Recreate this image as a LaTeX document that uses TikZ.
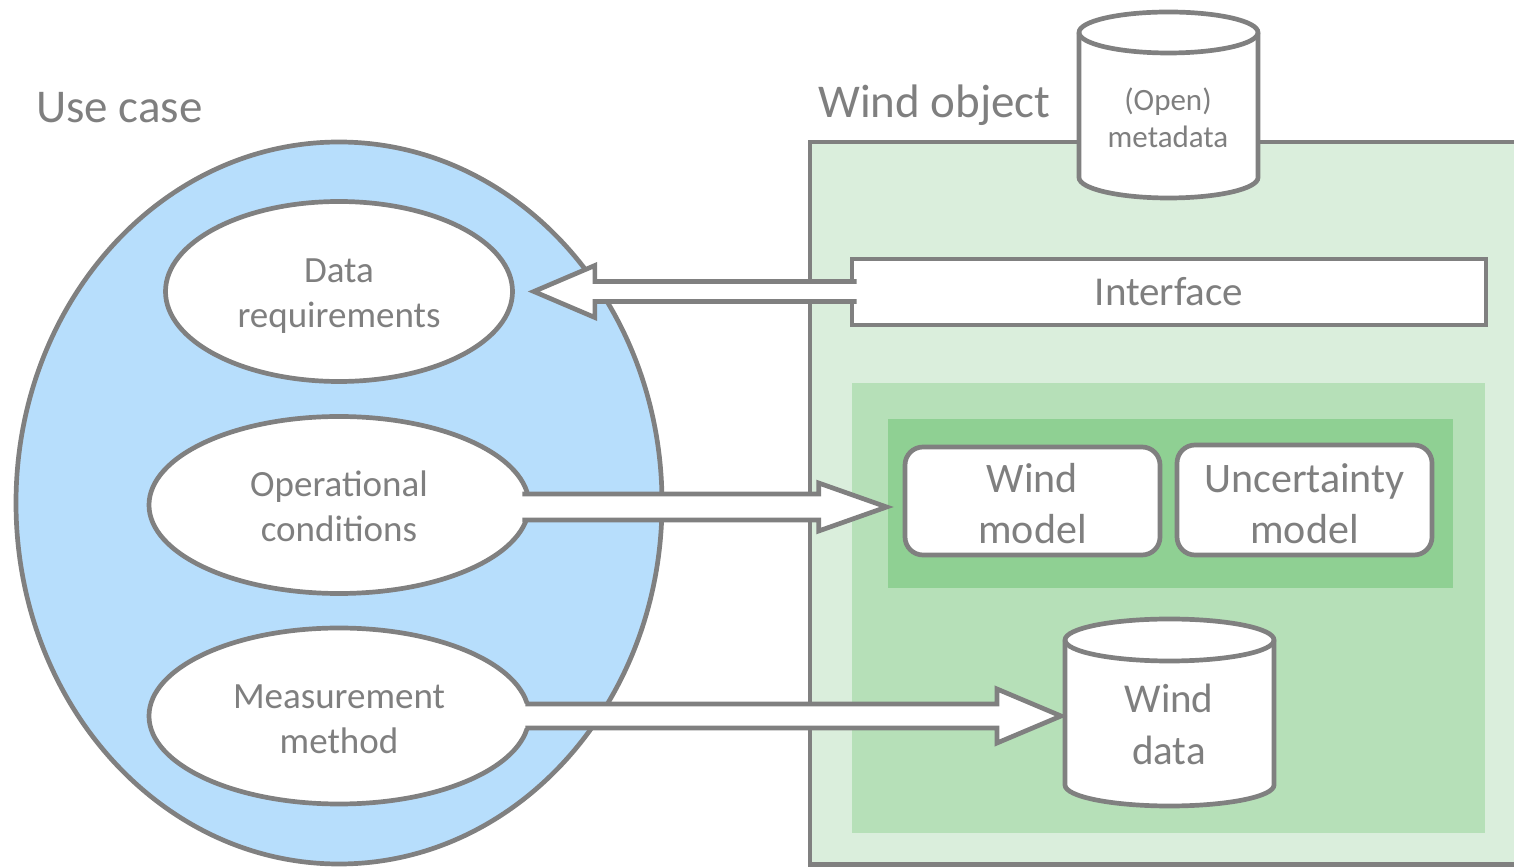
\documentclass[tikz,border=0pt]{standalone}
\usepackage{fontspec}
\setmainfont{Carlito}
\usetikzlibrary{calc,shapes.geometric}

\definecolor{edge}{RGB}{128,128,128}
\definecolor{txt}{RGB}{127,127,127}
\definecolor{caseblue}{RGB}{183,222,252}
\definecolor{objgreen}{RGB}{218,238,220}
\definecolor{midgreen}{RGB}{182,224,184}
\definecolor{deepgreen}{RGB}{143,208,147}

\tikzset{
  outline/.style={draw=edge, line width=4.7pt},
  oval/.style={ellipse, outline, fill=white, inner sep=0pt},
  modelbox/.style={rectangle, rounded corners=18pt, outline, fill=white, inner sep=0pt,
    minimum width=255pt},
  panel/.style={rectangle, inner sep=0pt, outer sep=0pt},
  drumbody/.style={rectangle, inner sep=0pt, outer sep=0pt, minimum height=145pt},
  label/.style={text=txt, align=center, inner sep=0pt},
  ovaltext/.style={label, font=\fontsize{37}{45}\selectfont},
  modeltext/.style={label, font=\fontsize{42}{51}\selectfont},
  heading/.style={text=txt, inner sep=0pt, anchor=base west, font=\fontsize{47}{56}\selectfont},
  arrowfill/.style={fill=white},
  arrowline/.style={outline, line join=miter},
}

% Cylinder outline around a body node: #1 node, #2 x radius, #3 y radius
\newcommand\drum[3]{%
  \path[fill=white, outline]
    (#1.north west) -- (#1.south west)
    arc[start angle=180, end angle=360, x radius=#2pt, y radius=#3pt]
    -- (#1.north east)
    arc[start angle=0, end angle=180, x radius=#2pt, y radius=#3pt] -- cycle;
  \draw[outline] (#1.north west)
    arc[start angle=180, end angle=360, x radius=#2pt, y radius=#3pt];
}

% Horizontal block arrow, open at the tail:
% #1 tail, #2 tip, #3 shaft half width, #4 head half width, #5 head length
\newcommand\blockarrow[5]{%
  \path[arrowfill] let \p1=(#1), \p2=(#2), \n1={sign(\x2-\x1)} in
    ({\x1-(\n1)*4pt},{\y2+#3pt}) -- ({\x2-(\n1)*#5pt},{\y2+#3pt})
    -- ({\x2-(\n1)*#5pt},{\y2+#4pt}) -- (\x2,\y2)
    -- ({\x2-(\n1)*#5pt},{\y2-#4pt}) -- ({\x2-(\n1)*#5pt},{\y2-#3pt})
    -- ({\x1-(\n1)*4pt},{\y2-#3pt}) -- cycle;
  \path[arrowline] let \p1=(#1), \p2=(#2), \n1={sign(\x2-\x1)} in
    (\x1,{\y2+#3pt}) -- ({\x2-(\n1)*#5pt},{\y2+#3pt})
    -- ({\x2-(\n1)*#5pt},{\y2+#4pt}) -- (\x2,\y2)
    -- ({\x2-(\n1)*#5pt},{\y2-#4pt}) -- ({\x2-(\n1)*#5pt},{\y2-#3pt})
    -- (\x1,{\y2-#3pt});
}

\begin{document}
\begin{tikzpicture}[x=1pt, y=1pt]
\useasboundingbox (0,0) rectangle (1514,867);

% ---- use case side ----
\node[ellipse, outline, fill=caseblue, inner sep=0pt,
      minimum width=646pt, minimum height=722pt] (usecase) at (339,364) {};
\node[oval, minimum width=347pt, minimum height=180pt] (dreq) at (339,575.5) {};
\node[ovaltext] (dreqtext) at (339,571) {Data\\requirements};
\node[oval, minimum width=380pt, minimum height=177pt] (opcond) at (339,362) {};
\node[ovaltext] (opcondtext) at (339,361) {Operational\\conditions};
\node[oval, minimum width=380pt, minimum height=176pt] (meas) at (339,151) {};
\node[ovaltext] (meastext) at (339,148) {Measurement\\method};

% ---- wind object side ----
\node[panel, outline, fill=objgreen, minimum width=720pt, minimum height=722.5pt]
  (windobj) at (1170,363.75) {};

\node[drumbody, minimum width=179pt] (meta) at (1168.5,762) {};
\drum{meta}{89.5}{20.5}
\node[label, font=\fontsize{31}{37}\selectfont] (metatext) at (1168,749)
  {(Open)\\metadata};

\node[panel, outline, fill=white, minimum width=634pt, minimum height=66pt,
      text=txt, font=\fontsize{41}{49}\selectfont] (iface) at (1169,575) {Interface};

\node[panel, fill=midgreen, minimum width=633pt, minimum height=450pt]
  (store) at (1168.5,259) {};
\node[panel, fill=deepgreen, minimum width=565pt, minimum height=169pt]
  (models) at (1170.5,363.5) {};

\node[modelbox, minimum height=108pt] (wmodel) at (1032.5,366) {};
\node[modeltext] (wmodeltext) at (1032.5,363) {Wind\\model};
\node[modelbox, minimum height=110pt] (umodel) at (1304.5,367) {};
\node[modeltext] (umodeltext) at (1304.5,363) {Uncertainty\\model};

\node[drumbody, minimum width=209pt] (wdata) at (1169.5,154.5) {};
\drum{wdata}{104.5}{21}
\node[label, font=\fontsize{41}{52}\selectfont] (wdtext) at (1169,143) {Wind\\data};

% ---- block arrows ----
\blockarrow{$(iface.west)+(4.5,0)$}{$(dreq.east)+(19,0)$}{10}{26}{61}
\blockarrow{$(opcond.east)+(-9,0)$}{$(wmodel.west |- opcond.east)+(-16,-2)$}{13}{24}{68}
\blockarrow{$(meas.east)+(-6,0)$}{$(wdata.west |- meas.east)+(-4,0)$}{12}{27}{64}

% ---- headings ----
\node[heading] (uctitle) at (36,744) {Use case};
\node[heading] (wotitle) at (818,749) {Wind object};
\end{tikzpicture}
\end{document}
